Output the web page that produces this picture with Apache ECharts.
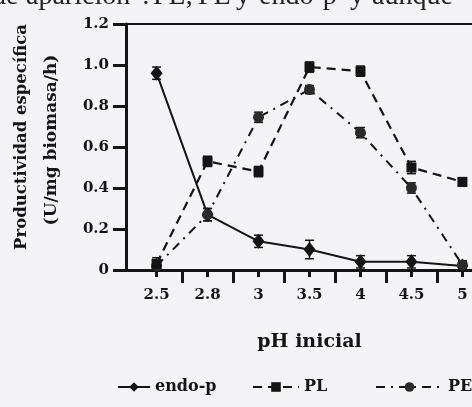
<!DOCTYPE html>
<html>
<head>
<meta charset="utf-8">
<script src="https://cdn.jsdelivr.net/npm/echarts@6/dist/echarts.min.js"></script>
<style>
  html, body { margin: 0; padding: 0; background: #f4f4f7; }
  #chart { width: 472px; height: 407px; }
</style>
</head>
<body>
<div id="chart"></div>
<script>
// valores
var phLabels = ['2.5', '2.8', '3', '3.5', '4', '4.5', '5'];
var endoP = [0.96, 0.27, 0.14, 0.10, 0.04, 0.04, 0.02];
var endoErr = [0.03, 0.03, 0.03, 0.045, 0.03, 0.03, 0.02];
var pl = [0.03, 0.53, 0.48, 0.99, 0.97, 0.50, 0.43];
var plErr = [0.03, 0.025, 0.025, 0.025, 0.025, 0.03, 0.02];
var pe = [0.02, 0.27, 0.745, 0.88, 0.67, 0.40, 0.025];
var peErr = [0.02, 0.03, 0.025, 0.02, 0.025, 0.025, 0.02];

// linea de texto de la pagina (cortada arriba)
var pageWords = ['de', 'aparición', ':', 'PL,', 'PE', 'y', 'endo-p', 'y', 'aunque'];
var pageWordX = [-8, 26, 142, 153, 198, 236, 259, 350, 372];

var ink = '#141414';
var fontB = 'DejaVu Serif';

function pts(arr) {
    return arr.map(function (v, i) { return [i, v]; });
}
function errData(vals, errs) {
    return vals.map(function (v, i) { return [i, v - errs[i], v + errs[i]]; });
}
function errBars(vals, errs) {
    return {
        type: 'custom',
        silent: true,
        z: 3,
        data: errData(vals, errs),
        renderItem: function (params, api) {
            var lo = api.coord([api.value(0), api.value(1)]);
            var hi = api.coord([api.value(0), api.value(2)]);
            var w = 4.5;
            var st = { stroke: ink, lineWidth: 1.5 };
            return {
                type: 'group',
                children: [
                    { type: 'line', shape: { x1: lo[0], y1: lo[1], x2: hi[0], y2: hi[1] }, style: st },
                    { type: 'line', shape: { x1: lo[0] - w, y1: lo[1], x2: lo[0] + w, y2: lo[1] }, style: st },
                    { type: 'line', shape: { x1: hi[0] - w, y1: hi[1], x2: hi[0] + w, y2: hi[1] }, style: st }
                ]
            };
        }
    };
}

var chart = echarts.init(document.getElementById('chart'));

var graphics = pageWords.map(function (w, i) {
    return {
        type: 'text', x: pageWordX[i], y: -3,
        style: { text: w, fill: '#222', font: '28px "Liberation Serif"', verticalAlign: 'middle' }
    };
});
graphics.push({
    type: 'text', x: 22, y: 137, rotation: Math.PI / 2,
    style: { text: 'Productividad específica', fill: ink, font: 'bold 16.5px "DejaVu Serif"', align: 'center', verticalAlign: 'middle' }
});
graphics.push({
    type: 'text', x: 52, y: 140, rotation: Math.PI / 2,
    style: { text: '(U/mg biomasa/h)', fill: ink, font: 'bold 17px "DejaVu Serif"', align: 'center', verticalAlign: 'middle' }
});

var option = {
    backgroundColor: '#f4f4f7',
    animation: false,
    grid: { left: 126, top: 24, bottom: 137, width: 367, outerBoundsMode: 'none' },
    xAxis: [
        {
            type: 'value', position: 'bottom', min: -0.6, max: 6.6,
            axisLine: { onZero: false, lineStyle: { color: ink, width: 3 } },
            axisTick: { customValues: [0, 1, 2, 3, 4, 5, 6], length: 7, lineStyle: { color: ink, width: 3 } },
            axisLabel: {
                customValues: [0, 1, 2, 3, 4, 5, 6],
                formatter: function (v) { return phLabels[Math.round(v)]; },
                margin: 18, color: ink, fontFamily: fontB, fontWeight: 'bold', fontSize: 15
            },
            splitLine: { show: false },
            name: 'pH inicial', nameLocation: 'middle', nameGap: 63,
            nameTextStyle: { color: ink, fontFamily: fontB, fontWeight: 'bold', fontSize: 19 }
        },
        {
            type: 'value', position: 'bottom', min: -0.6, max: 6.6,
            axisLine: { show: false, onZero: false },
            axisTick: { customValues: [0.5, 1.5, 2.5, 3.5, 4.5, 5.5, 6.5], length: 13, lineStyle: { color: ink, width: 3 } },
            axisLabel: { show: false },
            splitLine: { show: false }
        },
        {
            type: 'value', position: 'top', min: -0.6, max: 6.6,
            axisLine: { onZero: false, lineStyle: { color: ink, width: 2 } },
            axisTick: { show: false },
            axisLabel: { show: false },
            splitLine: { show: false }
        }
    ],
    yAxis: {
        type: 'value', min: 0, max: 1.2, interval: 0.2,
        axisLine: { show: true, onZero: false, lineStyle: { color: ink, width: 3 } },
        axisTick: { show: true, length: 13, lineStyle: { color: ink, width: 3 } },
        axisLabel: {
            margin: 17, color: ink, fontFamily: fontB, fontWeight: 'bold', fontSize: 15,
            padding: [0, 0, 6, 0],
            formatter: function (v) { return v === 0 ? '0' : v.toFixed(1); }
        },
        splitLine: { show: false }
    },
    legend: [
        { data: ['endo-p'], left: 112, top: 374, itemWidth: 32, itemHeight: 12 },
        { data: ['PL'], left: 247, top: 374, itemWidth: 46, itemHeight: 12 },
        { data: ['PE'], left: 370, top: 374, itemWidth: 67, itemHeight: 12 }
    ].map(function (l) {
        l.textStyle = { color: ink, fontFamily: fontB, fontWeight: 'bold', fontSize: 16 };
        l.itemGap = 0;
        return l;
    }),
    graphic: graphics,
    series: [
        {
            name: 'endo-p', type: 'line', data: pts(endoP), z: 4,
            symbol: 'diamond', symbolSize: [12, 15],
            itemStyle: { color: ink },
            lineStyle: { color: ink, width: 2 }
        },
        {
            name: 'PE', type: 'line', data: pts(pe), z: 4,
            symbol: 'circle', symbolSize: 11,
            itemStyle: { color: '#2a2a2a' },
            lineStyle: { color: ink, width: 2, type: [9, 6, 2, 6] }
        },
        {
            name: 'PL', type: 'line', data: pts(pl), z: 5,
            symbol: 'rect', symbolSize: 10,
            itemStyle: { color: ink },
            lineStyle: { color: ink, width: 2.2, type: [9, 6] }
        },
        errBars(endoP, endoErr),
        errBars(pe, peErr),
        errBars(pl, plErr)
    ]
};
chart.setOption(option);
</script>
</body>
</html>
